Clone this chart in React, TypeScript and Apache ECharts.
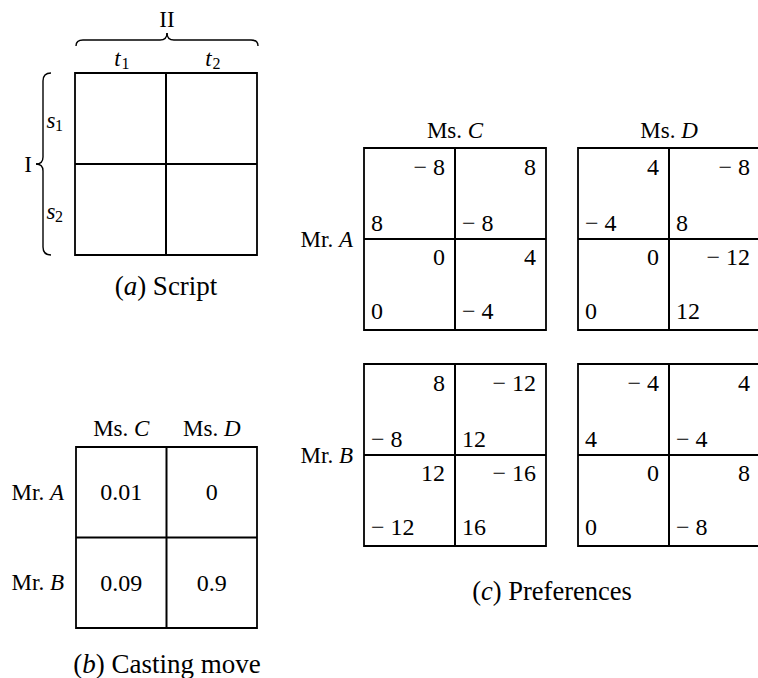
import React, { useEffect, useRef } from "react";
import * as echarts from "echarts";

const FONT = "Liberation Serif";
const INK = "#000";
const LABEL = 23;
const NUM = 24;

// ---- (a) Script ----
const scriptRowPlayer = "I";
const scriptColPlayer = "II";
const scriptRowStrategies = [{ base: "s", sub: "1" }, { base: "s", sub: "2" }];
const scriptColStrategies = [{ base: "t", sub: "1" }, { base: "t", sub: "2" }];
const scriptCaption = { tag: "a", text: "Script" };

// ---- (b) Casting move ----
const castingRows = ["A", "B"]; // Mr.
const castingCols = ["C", "D"]; // Ms.
const castingProbabilities = [
  ["0.01", "0"],
  ["0.09", "0.9"],
];
const castingCaption = { tag: "b", text: "Casting move" };

// ---- (c) Preferences: [upper-right, lower-left] per cell ----
const prefAC = [
  [[-8, 8], [8, -8]],
  [[0, 0], [4, -4]],
];
const prefAD = [
  [[4, -4], [-8, 8]],
  [[0, 0], [-12, 12]],
];
const prefBC = [
  [[8, -8], [-12, 12]],
  [[12, -12], [-16, 16]],
];
const prefBD = [
  [[-4, 4], [4, -4]],
  [[0, 0], [8, -8]],
];
const prefMen = ["A", "B"];
const prefWomen = ["C", "D"];
const prefTables = [
  [prefAC, prefAD],
  [prefBC, prefBD],
];
const prefCaption = { tag: "c", text: "Preferences" };

const fmt = (n: number) => (n < 0 ? "\u2212 " + Math.abs(n) : String(n));

function txt(x: number, y: number, text: string, align = "center", size = LABEL, italic = false, rich?: any): any {
  const style: any = {
    text,
    fill: INK,
    fontFamily: FONT,
    fontSize: size,
    textAlign: align,
    textVerticalAlign: "middle",
  };
  if (italic) style.fontStyle = "italic";
  if (rich) style.rich = rich;
  return { type: "text", x, y, silent: true, style };
}

function richFor(size: number): any {
  return {
    n: { fontFamily: FONT, fontSize: size, fill: INK },
    i: { fontFamily: FONT, fontSize: size, fontStyle: "italic", fill: INK },
  };
}
const richItalic = richFor(LABEL);

function box(x: number, y: number, size: number, lw = 1.8): any[] {
  const h = size / 2;
  return [
    { type: "rect", silent: true, shape: { x, y, width: size, height: size }, style: { fill: "none", stroke: INK, lineWidth: lw } },
    { type: "line", silent: true, shape: { x1: x + h, y1: y, x2: x + h, y2: y + size }, style: { stroke: INK, lineWidth: 2 } },
    { type: "line", silent: true, shape: { x1: x, y1: y + h, x2: x + size, y2: y + h }, style: { stroke: INK, lineWidth: 2 } },
  ];
}

function seg(x1: number, y1: number, x2: number, y2: number): any {
  return { type: "line", silent: true, shape: { x1, y1, x2, y2 }, style: { stroke: INK, lineWidth: 1.4 } };
}
function quad(x1: number, y1: number, cx: number, cy: number, x2: number, y2: number): any {
  return {
    type: "bezierCurve",
    silent: true,
    shape: { x1, y1, x2, y2, cpx1: cx, cpy1: cy },
    style: { stroke: INK, fill: "none", lineWidth: 1.4 },
  };
}

function caption(x: number, y: number, c: { tag: string; text: string }, size: number): any {
  return txt(x, y, `{n|(}{i|${c.tag}}{n|) ${c.text}}`, "center", size, false, richFor(size));
}

function buildGraphics(): any[] {
  const g: any[] = [];

  // ---------- (a) ----------
  const ax = 75, ay = 73, as = 182;
  g.push(...box(ax, ay, as));
  // top brace
  const bx0 = ax + 1, bx1 = ax + as + 1, bmid = (bx0 + bx1) / 2, by = 40;
  g.push(quad(bx0, 46, bx0, by, bx0 + 7, by));
  g.push(seg(bx0 + 7, by, bmid - 7, by));
  g.push(quad(bmid - 7, by, bmid, by, bmid, 33));
  g.push(quad(bmid, 33, bmid, by, bmid + 7, by));
  g.push(seg(bmid + 7, by, bx1 - 7, by));
  g.push(quad(bx1 - 7, by, bx1, by, bx1, 46));
  g.push(txt(bmid, 19, scriptColPlayer));
  // left brace
  const lx = 43, ly0 = ay, ly1 = ay + as, lmid = (ly0 + ly1) / 2;
  g.push(quad(51, ly0, lx, ly0, lx, ly0 + 8));
  g.push(seg(lx, ly0 + 8, lx, lmid - 7));
  g.push(quad(lx, lmid - 7, lx, lmid, 36, lmid));
  g.push(quad(36, lmid, lx, lmid, lx, lmid + 7));
  g.push(seg(lx, lmid + 7, lx, ly1 - 8));
  g.push(quad(lx, ly1 - 8, lx, ly1, 51, ly1));
  g.push(txt(28, lmid, scriptRowPlayer));
  // strategy labels
  scriptColStrategies.forEach((s, j) => {
    const cx = ax + as / 4 + (j * as) / 2;
    g.push(txt(cx - 3, 58, s.base, "center", LABEL, true));
    g.push(txt(cx + 1, 63, s.sub, "left", 16));
  });
  scriptRowStrategies.forEach((s, i) => {
    const cy = ay + as / 4 + (i * as) / 2 + 2;
    g.push(txt(51, cy, s.base, "center", LABEL, true));
    g.push(txt(55, cy + 5, s.sub, "left", 16));
  });
  g.push(caption(166, 286, scriptCaption, 27));

  // ---------- (b) ----------
  const bxx = 76, byy = 447, bs = 181;
  g.push(...box(bxx, byy, bs));
  castingCols.forEach((c, j) => {
    const cx = bxx + bs / 4 + (j * bs) / 2;
    g.push(txt(cx, 428, `{n|Ms. }{i|${c}}`, "center", LABEL, false, richItalic));
  });
  castingRows.forEach((r, i) => {
    const cy = byy + bs / 4 + (i * bs) / 2;
    g.push(txt(64, cy, `{n|Mr. }{i|${r}}`, "right", LABEL, false, richItalic));
  });
  castingProbabilities.forEach((row, i) =>
    row.forEach((v, j) => {
      const cx = bxx + bs / 4 + (j * bs) / 2;
      const cy = byy + bs / 4 + (i * bs) / 2;
      g.push(txt(cx, cy, v, "center", NUM));
    })
  );
  g.push(caption(167, 664, castingCaption, 27));

  // ---------- (c) ----------
  const cxs = [364, 578], cys = [148, 364], cs = 182, half = cs / 2;
  const topOff = [19, 18], botOff = [16, 19];
  prefWomen.forEach((w, j) => {
    g.push(txt(cxs[j] + half, 130, `{n|Ms. }{i|${w}}`, "center", LABEL, false, richItalic));
  });
  prefMen.forEach((m, i) => {
    g.push(txt(353, cys[i] + half, `{n|Mr. }{i|${m}}`, "right", LABEL, false, richItalic));
  });
  prefTables.forEach((rowT, i) =>
    rowT.forEach((table, j) => {
      const x0 = cxs[j], y0 = cys[i];
      g.push(...box(x0, y0, cs));
      table.forEach((row, r) =>
        row.forEach((cell, c) => {
          const clx = x0 + c * half, cty = y0 + r * half;
          g.push(txt(clx + half - 10, cty + topOff[r], fmt(cell[0]), "right", NUM));
          g.push(txt(clx + 7, cty + half - botOff[r], fmt(cell[1]), "left", NUM));
        })
      );
    })
  );
  g.push(caption(552, 591, prefCaption, 26.5));

  return g;
}

export default function App() {
  const ref = useRef<HTMLDivElement>(null);
  useEffect(() => {
    document.body.style.margin = "0";
    const chart = echarts.init(ref.current!, null, { renderer: "svg" });
    chart.setOption({
      animation: false,
      backgroundColor: "#fff",
      graphic: { elements: buildGraphics() },
    });
    return () => chart.dispose();
  }, []);
  return (
    <div
      ref={ref}
      style={{ position: "absolute", left: 0, top: 0, width: 758, height: 678, background: "#fff" }}
    />
  );
}
